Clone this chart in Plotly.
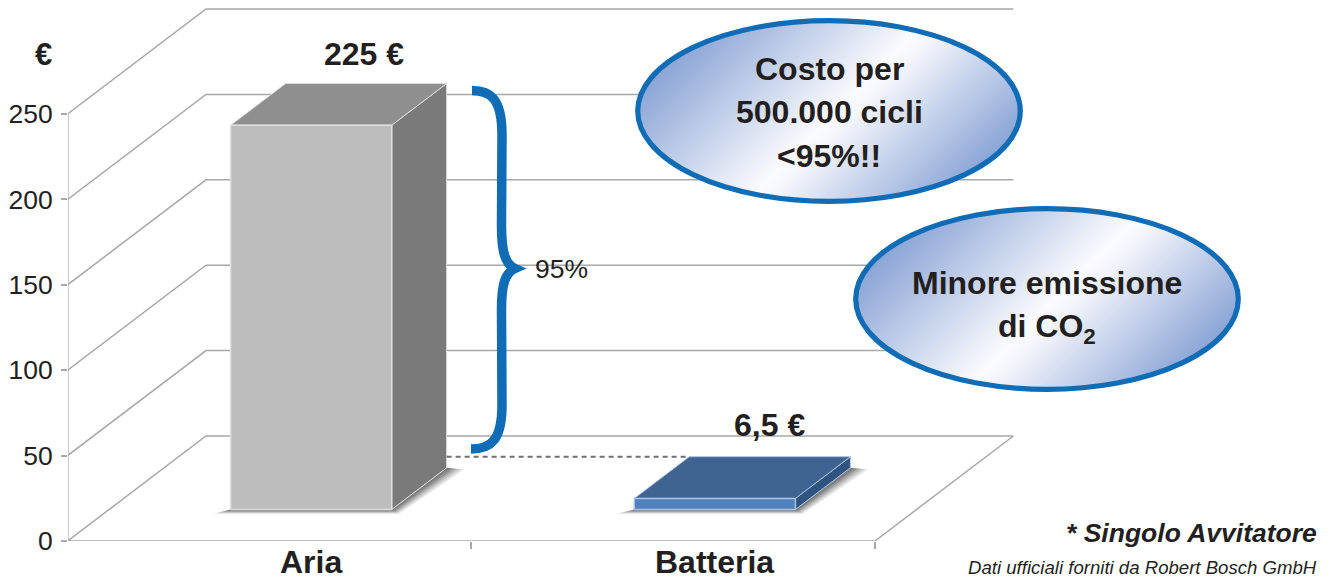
import base64
import plotly.graph_objects as go

# ---------- data ----------
categories = ["Aria", "Batteria"]
costs = [225, 6.5]
cost_labels = ["225 €", "6,5 €"]
y_ticks = [0, 50, 100, 150, 200, 250]

# ---------- pseudo 3D projection (category units, euro, depth 0..1) ----------
W, H = 1334, 579
LEFT, ZERO_Y = 67.6, 541.0
CAT_W, UNIT = 403.7, 1.708
DX, DY = 138.4, 105.0
ML, MB = 68, 38


def project(c, v, d=0.0):
    return c + DX / CAT_W * d, v + DY / UNIT * d


def PX(px):
    return (px - LEFT) / CAT_W


def PY(py):
    return (ZERO_Y - py) / UNIT


def paper_x(px):
    return (px - ML) / (W - ML)


def paper_y(py):
    return (H - MB - py) / (H - MB)


X_MAX = PX(W)
Y_MAX = PY(0)
GRID = "#A8A8A8"
INK = "#231F20"
FONT = "Liberation Sans"
BLUE = "#0F6CB5"

fig = go.Figure()


def line(points, color=GRID, width=1.5, dash=None):
    xs, ys = zip(*[project(*p) for p in points])
    fig.add_trace(go.Scatter(x=xs, y=ys, mode="lines", hoverinfo="skip", showlegend=False,
                             line=dict(color=color, width=width, dash=dash)))


def poly(points, fill, edge=None, width=1.5, opacity=1.0):
    xs, ys = zip(*[project(*p) for p in points])
    fig.add_trace(go.Scatter(x=list(xs) + [xs[0]], y=list(ys) + [ys[0]], mode="lines", fill="toself",
                             fillcolor=fill, opacity=opacity, hoverinfo="skip", showlegend=False,
                             line=dict(color=edge or "rgba(0,0,0,0)", width=width if edge else 0)))


# walls
n_cat = len(categories)
for t in y_ticks:
    line([(0, t, 0), (0, t, 1), (n_cat, t, 1)])
line([(0, 0, 0), (0, y_ticks[-1], 0)], width=2)
line([(0, 0, 0), (n_cat, 0, 0), (n_cat, 0, 1)])

# bars
D0, D1 = 0.3, 0.697
B0, B1 = 0.301, 0.700
styles = [
    dict(front="#BDBDBD", top="#8F8F8F", side="#7A7A7A", edge="#DEDEDE"),
    dict(front="#4F81BD", top="#3F6491", side="#2F5480", edge="#A9C0E0"),
]
for i, (val, st) in enumerate(zip(costs, styles)):
    x0, x1 = i + B0, i + B1
    # soft floor shadow
    for k, op in ((1.0, 0.10), (0.85, 0.12), (0.7, 0.14), (0.55, 0.18), (0.4, 0.22), (0.25, 0.26)):
        s = k * 18 / CAT_W
        h = k * 4.5 / UNIT
        poly([(x0 - s, -h, D0), (x1 + s * .4, -h, D0), (x1 + s, -h * .4, D1), (x1, 0, D1), (x1, 0, D0), (x0, 0, D0)],
             "#444444", opacity=op)
    poly([(x1, 0, D0), (x1, 0, D1), (x1, val, D1), (x1, val, D0)], st["side"], st["edge"], 1)
    poly([(x0, val, D0), (x1, val, D0), (x1, val, D1), (x0, val, D1)], st["top"], st["edge"], 1)
    poly([(x0, 0, D0), (x1, 0, D0), (x1, val, D0), (x0, val, D0)], st["front"], st["edge"], 1.5)

# dashed connector between the two bars at the level of the small one
line([(B1, costs[1], D1), (1 + B0, costs[1], D1)], color="#6F6F6F", width=2, dash="5px,4px")


# ellipses with diagonal gradient
def ellipse_image(name, l, t, r, b):
    w, h = r - l, b - t
    cx, cy = w / 2, h / 2
    d = 107
    svg = (f'<svg xmlns="http://www.w3.org/2000/svg" width="{w}" height="{h}" viewBox="0 0 {w} {h}">'
           f'<defs><linearGradient id="{name}" gradientUnits="userSpaceOnUse" '
           f'x1="{cx-d}" y1="{cy-d}" x2="{cx+d}" y2="{cy+d}">'
           '<stop offset="0" stop-color="#88A3D5"/><stop offset="0.52" stop-color="#FBFBFE"/>'
           '<stop offset="0.56" stop-color="#F6F7FC"/><stop offset="1" stop-color="#88A3D5"/>'
           '</linearGradient></defs>'
           f'<ellipse cx="{cx}" cy="{cy}" rx="{cx-2.7}" ry="{cy-2.7}" fill="url(#{name})" '
           f'stroke="{BLUE}" stroke-width="5.2"/></svg>')
    src = "data:image/svg+xml;base64," + base64.b64encode(svg.encode()).decode()
    return dict(source=src, xref="x", yref="y", x=PX(l), y=PY(t), sizex=w / CAT_W, sizey=h / UNIT,
                xanchor="left", yanchor="top", sizing="stretch", layer="above", opacity=1)


images = [ellipse_image("g1", 635, 18, 1023, 204), ellipse_image("g2", 853, 206, 1241, 392)]


# brace
def p(x, y):
    return f"{PX(x):.5f},{PY(y):.3f}"


brace = ("M " + p(472, 90.5) + " C " + p(490, 90.5) + " " + p(502, 98) + " " + p(502, 135)
         + " L " + p(501.5, 225) + " C " + p(501.5, 252) + " " + p(505, 264) + " " + p(515, 268.5)
         + " C " + p(505, 273) + " " + p(501.5, 284) + " " + p(501.5, 310)
         + " L " + p(502, 405) + " C " + p(502, 440) + " " + p(491, 449) + " " + p(471, 449))


def note(text, px, py, size, bold=False, italic=False, anchor="center"):
    if bold:
        text = f"<b>{text}</b>"
    if italic:
        text = f"<i>{text}</i>"
    return dict(text=text, x=paper_x(px), y=paper_y(py), xref="paper", yref="paper", showarrow=False,
                xanchor=anchor, yanchor="middle", font=dict(family=FONT, size=size, color=INK))


annotations = [
    note("€", 43, 54, 31, bold=True),
    note(cost_labels[0], 364, 54, 32, bold=True),
    note(cost_labels[1], 769, 425, 32, bold=True),
    note("95%", 561, 269, 26.5),
    note("Costo per", 829, 69, 32, bold=True),
    note("500.000 cicli", 829, 112, 32, bold=True),
    note("&lt;95%!!", 829, 156, 32, bold=True),
    note("Minore emissione", 1047, 283, 32, bold=True),
    note("di CO<sub>2</sub>", 1047, 328, 32, bold=True),
    note("* Singolo Avvitatore", 1319, 533, 26.5, bold=True, italic=True, anchor="right"),
    note("Dati ufficiali forniti da Robert Bosch GmbH", 1319, 567, 18.6, italic=True, anchor="right"),
]
for i, name in enumerate(categories):
    cx, _ = project(i + 0.5, 0, 0.3)
    annotations.append(note(name, LEFT + CAT_W * cx, 562, 32, bold=True))

fig.update_layout(
    width=W, height=H, paper_bgcolor="white", plot_bgcolor="white", showlegend=False,
    margin=dict(l=ML, r=0, t=0, b=MB, pad=0),
    xaxis=dict(range=[PX(ML), X_MAX], showgrid=False, zeroline=False, showline=False,
               tickmode="array", tickvals=list(range(n_cat + 1)), showticklabels=False,
               ticks="outside", ticklen=7, tickcolor=GRID, tickwidth=1.5),
    yaxis=dict(range=[PY(H - MB), Y_MAX], showgrid=False, zeroline=False, showline=False,
               tickmode="array", tickvals=y_ticks, ticks="outside", ticklen=6, tickcolor=GRID, tickwidth=1.5,
               tickfont=dict(family=FONT, size=26.5, color=INK), ticklabelstandoff=3),
    images=images,
    shapes=[dict(type="path", path=brace, xref="x", yref="y", line=dict(color=BLUE, width=9.5), layer="above")],
    annotations=annotations,
)
fig.write_html("out.html", config=dict(displayModeBar=False),
               post_script="document.body.style.margin='0';document.documentElement.style.overflow='hidden';")
